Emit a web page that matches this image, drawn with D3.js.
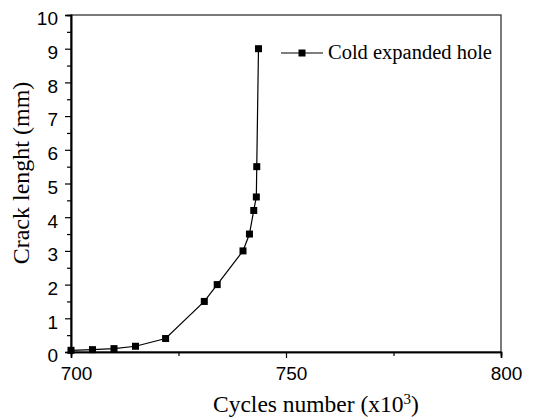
<!DOCTYPE html>
<html>
<head>
<meta charset="utf-8">
<script src="https://cdn.jsdelivr.net/npm/d3@7"></script>
<style>
  body { margin: 0; background: #fff; }
  .tick text { font-family: "Liberation Sans", Arial, sans-serif; font-size: 19px; fill: #000; }
  .serif { font-family: "Liberation Serif", "Times New Roman", serif; fill: #000; }
</style>
</head>
<body>
<div id="chart"></div>
<script>
// Crack growth data (cycles x10^3, crack length mm)
const cycles = [700, 705, 710, 715, 722, 731, 734, 740, 741.5, 742.5, 743.1, 743.2, 743.6];
const crackLength = [0.05, 0.07, 0.1, 0.17, 0.4, 1.5, 2.0, 3.0, 3.5, 4.2, 4.6, 5.5, 9.0];
const xTicks = [700, 750, 800];
const xMinorTicks = [725, 775];
const yTicks = [0, 1, 2, 3, 4, 5, 6, 7, 8, 9, 10];
const seriesName = "Cold expanded hole";

const margin = { top: 15, right: 35, bottom: 65, left: 71 };
const width = 536 - margin.left - margin.right;
const height = 417 - margin.top - margin.bottom;

const svg = d3.select("#chart")
    .append("svg")
    .attr("width", 536)
    .attr("height", 417);

const g = svg.append("g")
    .attr("transform", `translate(${margin.left},${margin.top})`);

const xScale = d3.scaleLinear().domain([700, 800]).range([0, width]);
const yScale = d3.scaleLinear().domain([0, 10]).range([height, 0]);

// frame (top and right)
g.append("rect")
    .attr("width", width)
    .attr("height", height)
    .attr("fill", "none")
    .attr("stroke", "#333")
    .attr("stroke-width", 1.3);

// x axis
g.append("g")
    .attr("transform", `translate(0,${height})`)
    .call(d3.axisBottom(xScale).tickValues(xTicks).tickSize(6).tickPadding(9).tickFormat(d3.format("d")))
    .selectAll(".tick text").attr("dx", 5);
g.append("g")
    .attr("transform", `translate(0,${height})`)
    .call(d3.axisBottom(xScale).tickValues(xMinorTicks).tickSize(4).tickFormat(""));

// y axis
g.append("g")
    .call(d3.axisLeft(yScale).tickValues(yTicks).tickSize(6).tickPadding(7).tickFormat(d3.format("d")))
    .selectAll(".tick text").attr("dy", "0.52em");
g.append("g")
    .call(d3.axisLeft(yScale).tickValues(yTicks.slice(0, -1).map(d => d + 0.5)).tickSize(4).tickFormat(""));

g.selectAll(".domain").attr("stroke", "#000").attr("stroke-width", 1.6);
g.selectAll(".tick line").attr("stroke", "#000").attr("stroke-width", 1.2);

// line and markers
const data = cycles.map((c, i) => ({ x: c, y: crackLength[i] }));
const line = d3.line().x(d => xScale(d.x)).y(d => yScale(d.y));

g.append("path")
    .datum(data)
    .attr("fill", "none")
    .attr("stroke", "#000")
    .attr("stroke-width", 1.2)
    .attr("d", line);

const ms = 7;
g.selectAll(".marker")
    .data(data)
    .enter()
    .append("rect")
    .attr("class", "marker")
    .attr("x", d => xScale(d.x) - ms / 2)
    .attr("y", d => yScale(d.y) - ms / 2)
    .attr("width", ms)
    .attr("height", ms)
    .attr("fill", "#000");

// legend
const legend = g.append("g").attr("transform", `translate(${281 - margin.left},${53 - margin.top})`);
legend.append("line")
    .attr("x1", 0).attr("x2", 42)
    .attr("stroke", "#000").attr("stroke-width", 1.2);
legend.append("rect")
    .attr("x", 21 - ms / 2).attr("y", -ms / 2)
    .attr("width", ms).attr("height", ms)
    .attr("fill", "#000");
legend.append("text")
    .attr("class", "serif")
    .attr("x", 47)
    .attr("y", 6)
    .style("font-size", "20.5px")
    .text(seriesName);

// axis titles
svg.append("text")
    .attr("class", "serif")
    .attr("x", 213)
    .attr("y", 412)
    .style("font-size", "23.5px")
    .html('Cycles number (x10<tspan dy="-8" font-size="15px">3</tspan><tspan dy="8">)</tspan>');

svg.append("text")
    .attr("class", "serif")
    .attr("transform", `translate(29,173) rotate(-90)`)
    .attr("text-anchor", "middle")
    .style("font-size", "24px")
    .text("Crack lenght (mm)");
</script>
</body>
</html>
